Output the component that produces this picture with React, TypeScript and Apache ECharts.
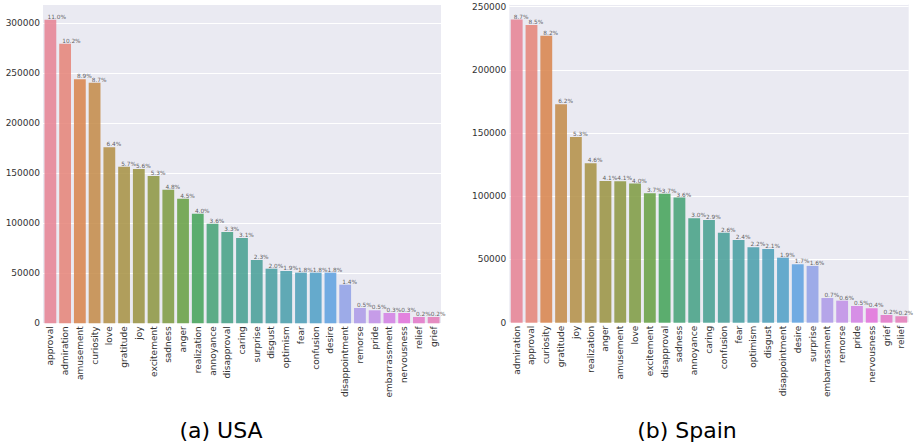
import React, { useEffect, useRef } from "react";
import * as echarts from "echarts";

// USA emotion counts, sorted by frequency
const usaCategories = [
  "approval", "admiration", "amusement", "curiosity", "love", "gratitude", "joy",
  "excitement", "sadness", "anger", "realization", "annoyance", "disapproval", "caring",
  "surprise", "disgust", "optimism", "fear", "confusion", "desire", "disappointment",
  "remorse", "pride", "embarrassment", "nervousness", "relief", "grief",
];
const usaValues = [
  303600, 279600, 244000, 240600, 176000, 156600, 154300, 147300, 133600, 124600,
  109600, 99600, 91300, 85300, 63300, 54600, 52300, 50600, 50600, 50600, 38600,
  15300, 13000, 10300, 10300, 6300, 6300,
];
const usaPercents = [
  "11.0%", "10.2%", "8.9%", "8.7%", "6.4%", "5.7%", "5.6%", "5.3%", "4.8%", "4.5%",
  "4.0%", "3.6%", "3.3%", "3.1%", "2.3%", "2.0%", "1.9%", "1.8%", "1.8%", "1.8%",
  "1.4%", "0.5%", "0.5%", "0.3%", "0.3%", "0.2%", "0.2%",
];

// Spain emotion counts, sorted by frequency
const spainCategories = [
  "admiration", "approval", "curiosity", "gratitude", "joy", "realization", "anger",
  "amusement", "love", "excitement", "disapproval", "sadness", "annoyance", "caring",
  "confusion", "fear", "optimism", "disgust", "disappointment", "desire", "surprise",
  "embarrassment", "remorse", "pride", "nervousness", "grief", "relief",
];
const spainValues = [
  239700, 235300, 226800, 172800, 146900, 126100, 112100, 111900, 110000, 102400,
  102000, 98900, 82600, 81300, 71200, 65400, 59700, 58300, 51400, 46200, 44900,
  19500, 17400, 13200, 11400, 6100, 5100,
];
const spainPercents = [
  "8.7%", "8.5%", "8.2%", "6.2%", "5.3%", "4.6%", "4.1%", "4.1%", "4.0%", "3.7%",
  "3.7%", "3.6%", "3.0%", "2.9%", "2.6%", "2.4%", "2.2%", "2.1%", "1.9%", "1.7%",
  "1.6%", "0.7%", "0.6%", "0.5%", "0.4%", "0.2%", "0.2%",
];

const yTickStep = 50000;
const captions = ["(a) USA", "(b) Spain"];

// --- HUSL palette (evenly spaced hues), desaturated like seaborn bars ---
const M = [
  [3.2406, -1.5372, -0.4986],
  [-0.9689, 1.8758, 0.0415],
  [0.0557, -0.204, 1.057],
];
const refU = 0.19784;
const refV = 0.46834;
const labE = 0.008856;
const labK = 903.3;

function maxChroma(L: number, H: number): number {
  const hrad = (H / 180) * Math.PI;
  const sinH = Math.sin(hrad);
  const cosH = Math.cos(hrad);
  const sub1 = Math.pow(L + 16, 3) / 1560896.0;
  const sub2 = sub1 > labE ? sub1 : L / labK;
  let result = Infinity;
  for (const [m1, m2, m3] of M) {
    const top = (0.99915 * m1 + 1.05122 * m2 + 1.1446 * m3) * sub2;
    const rbottom = 0.8633 * m3 - 0.17266 * m2;
    const lbottom = 0.12949 * m3 - 0.38848 * m1;
    const bottom = (rbottom * sinH + lbottom * cosH) * sub2;
    for (const t of [0, 1]) {
      const C = (L * (top - 1.05122 * t)) / (bottom + 0.17266 * sinH * t);
      if (C > 0 && C < result) result = C;
    }
  }
  return result;
}

function fromLinear(c: number): number {
  return c <= 0.0031308 ? 12.92 * c : 1.055 * Math.pow(c, 1 / 2.4) - 0.055;
}

function huslToRgb(H: number, S: number, L: number): number[] {
  const C = (maxChroma(L, H) / 100) * S;
  const hrad = (H / 180) * Math.PI;
  const U = Math.cos(hrad) * C;
  const V = Math.sin(hrad) * C;
  const t = (L + 16) / 116;
  const varY = Math.pow(t, 3) > labE ? Math.pow(t, 3) : (116 * t - 16) / labK;
  const varU = U / (13 * L) + refU;
  const varV = V / (13 * L) + refV;
  const Y = varY;
  const X = -(9 * Y * varU) / ((varU - 4) * varV - varU * varV);
  const Z = (9 * Y - 15 * varV * Y - varV * X) / (3 * varV);
  return M.map((row) =>
    Math.min(1, Math.max(0, fromLinear(row[0] * X + row[1] * Y + row[2] * Z)))
  );
}

function desaturate(rgb: number[], prop: number): number[] {
  const mx = Math.max(...rgb);
  const mn = Math.min(...rgb);
  const l = (mx + mn) / 2;
  return rgb.map((c) => l + (c - l) * prop);
}

function toHex(rgb: number[]): string {
  return (
    "#" +
    rgb
      .map((c) => Math.round(c * 255).toString(16).padStart(2, "0"))
      .join("")
  );
}

function huslPalette(n: number): string[] {
  const out: string[] = [];
  for (let i = 0; i < n; i++) {
    const h = ((i / (n + 1) + 0.01) % 1) * 359;
    out.push(toHex(desaturate(huslToRgb(h, 0.9 * 99, 0.65 * 99), 0.75)));
  }
  return out;
}

const FONT = "DejaVu Sans";

function barSeries(values: number[], percents: string[], palette: string[], idx: number) {
  return {
    type: "bar",
    xAxisIndex: idx,
    yAxisIndex: idx,
    barCategoryGap: "20%",
    data: values.map((v, i) => ({
      value: v,
      itemStyle: { color: palette[i], opacity: 0.85 },
    })),
    label: {
      show: true,
      position: [3, 0],
      align: "left",
      verticalAlign: "bottom",
      fontSize: 5.8,
      fontFamily: FONT,
      color: "#444",
      formatter: (p: any) => percents[p.dataIndex],
    },
  };
}

export default function App() {
  const ref = useRef<HTMLDivElement>(null);

  useEffect(() => {
    if (!ref.current) return;
    const chart = echarts.init(ref.current, undefined, { renderer: "svg" });
    const palette = huslPalette(usaCategories.length);

    const xAxis = (cats: string[], gridIndex: number) => ({
      type: "category",
      gridIndex,
      data: cats,
      axisLine: { show: false },
      axisTick: { show: false },
      axisLabel: {
        interval: 0,
        rotate: 90,
        margin: 3,
        fontSize: 9,
        fontFamily: FONT,
        color: "#333",
      },
    });
    const yAxis = (max: number, gridIndex: number) => ({
      type: "value",
      gridIndex,
      min: 0,
      max,
      interval: yTickStep,
      axisLine: { show: false },
      axisTick: { show: false },
      splitLine: { lineStyle: { color: "#ffffff", width: 1 } },
      axisLabel: {
        showMaxLabel: false,
        margin: 3,
        fontSize: 9,
        fontFamily: FONT,
        color: "#333",
        formatter: (v: number) => String(v),
      },
    });

    chart.setOption({
      animation: false,
      backgroundColor: "#ffffff",
      grid: [
        {
          left: 43, right: 475, top: 4, bottom: 123.7,
          show: true, backgroundColor: "#EAEAF2", borderWidth: 0,
        },
        {
          left: 509.3, right: 7.3, top: 4, bottom: 124.3,
          show: true, backgroundColor: "#EAEAF2", borderWidth: 0,
        },
      ],
      xAxis: [xAxis(usaCategories, 0), xAxis(spainCategories, 1)],
      yAxis: [yAxis(319300, 0), yAxis(252000, 1)],
      series: [
        barSeries(usaValues, usaPercents, palette, 0),
        barSeries(spainValues, spainPercents, palette, 1),
      ],
      graphic: [
        {
          type: "text", x: 221, y: 430,
          style: {
            text: captions[0], fontSize: 22, fontFamily: FONT, fill: "#000",
            textAlign: "center", textVerticalAlign: "middle",
          },
        },
        {
          type: "text", x: 687, y: 430,
          style: {
            text: captions[1], fontSize: 22, fontFamily: FONT, fill: "#000",
            textAlign: "center", textVerticalAlign: "middle",
          },
        },
      ],
    });
    return () => chart.dispose();
  }, []);

  return (
    <div
      ref={ref}
      style={{ position: "fixed", left: 0, top: 0, width: 916, height: 447 }}
    />
  );
}
